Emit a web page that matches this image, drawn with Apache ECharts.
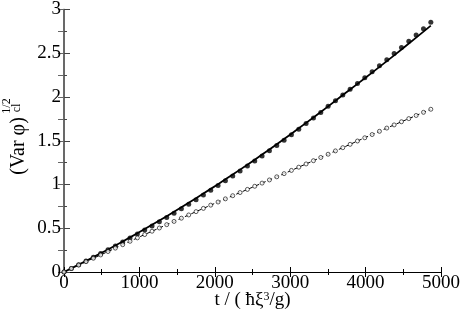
<!DOCTYPE html>
<html>
<head>
<meta charset="utf-8">
<script src="https://cdn.jsdelivr.net/npm/echarts@6/dist/echarts.min.js"></script>
<style>
html,body{margin:0;padding:0;background:#fff;}
#c{width:463px;height:323px;}
</style>
</head>
<body>
<div id="c"></div>
<script>
// ---- data ----
const tStep = 97.3;
const xTicks = [0, 1000, 2000, 3000, 4000, 5000];
const yTicks = [0, 0.5, 1, 1.5, 2, 2.5, 3];

// filled dots (simulation, upper set)
const filledDots = [0.000,0.041,0.083,0.125,0.168,0.211,0.254,0.298,0.343,0.389,
  0.435,0.481,0.527,0.575,0.623,0.672,0.723,0.775,0.827,0.880,
  0.934,0.988,1.043,1.098,1.155,1.212,1.269,1.327,1.386,1.446,
  1.506,1.569,1.632,1.697,1.760,1.824,1.893,1.957,2.022,2.088,
  2.154,2.221,2.289,2.357,2.426,2.496,2.566,2.636,2.708,2.780,2.853];

// solid curve
const solidLine = [0.000,0.041,0.084,0.126,0.170,0.214,0.258,0.303,0.349,0.396,
  0.443,0.491,0.539,0.588,0.638,0.688,0.739,0.791,0.843,0.896,
  0.950,1.004,1.059,1.114,1.170,1.227,1.284,1.342,1.401,1.460,
  1.520,1.581,1.642,1.704,1.766,1.829,1.893,1.957,2.022,2.086,
  2.150,2.214,2.279,2.344,2.410,2.476,2.543,2.611,2.679,2.747,2.816];

// open circles (lower set)
const openDots = [0.000,0.040,0.079,0.118,0.157,0.195,0.234,0.273,0.312,0.351,
  0.390,0.428,0.466,0.503,0.541,0.578,0.615,0.652,0.690,0.727,
  0.764,0.800,0.836,0.872,0.908,0.944,0.980,1.016,1.052,1.088,
  1.124,1.161,1.198,1.235,1.272,1.309,1.346,1.384,1.421,1.459,
  1.497,1.534,1.571,1.608,1.645,1.681,1.717,1.753,1.789,1.825,1.860];

// dashed curve
const dashedLine = [0.000,0.040,0.079,0.118,0.157,0.195,0.234,0.273,0.312,0.351,
  0.390,0.428,0.466,0.503,0.541,0.578,0.615,0.652,0.690,0.727,
  0.764,0.800,0.836,0.872,0.908,0.944,0.980,1.016,1.052,1.088,
  1.124,1.161,1.198,1.235,1.272,1.309,1.346,1.384,1.421,1.459,
  1.497,1.534,1.571,1.608,1.645,1.681,1.717,1.753,1.789,1.825,1.860];

const tValues = filledDots.map((_, i) => +(i * tStep).toFixed(1));
const pairs = arr => arr.map((v, i) => [tValues[i], v]);

const FONT = 'Liberation Serif';
const chart = echarts.init(document.getElementById('c'));

const axisCommon = {
  min: xTicks[0], max: xTicks[xTicks.length - 1], interval: xTicks[1] - xTicks[0]
};
const yCommon = {
  min: yTicks[0], max: yTicks[yTicks.length - 1], interval: yTicks[1] - yTicks[0]
};
const plain = v => String(v);

chart.setOption({
  animation: false,
  backgroundColor: '#fff',
  grid: {left: 64, right: 22, top: 8, bottom: 51, containLabel: false},
  xAxis: [{
    type: 'value', position: 'bottom', ...axisCommon,
    axisLine: {show: true, lineStyle: {color: '#000', width: 1}},
    axisTick: {show: true, inside: true, length: 5, lineStyle: {color: '#000'}},
    minorTick: {show: true, splitNumber: 2, length: 3, lineStyle: {color: '#000'}},
    splitLine: {show: false},
    axisLabel: {color: '#000', fontFamily: FONT, fontSize: 19, margin: 2, formatter: plain},
    name: 't / ( ħξ{sup|3}/g)',
    nameLocation: 'middle', nameGap: 19, nameMoveOverlap: false,
    nameTextStyle: {color: '#000', fontFamily: FONT, fontSize: 19, lineHeight: 19,
      rich: {sup: {fontFamily: FONT, fontSize: 12, lineHeight: 12, verticalAlign: 'top'}}}
  }, {
    type: 'value', position: 'top', ...axisCommon,
    axisLine: {show: true, lineStyle: {color: '#000', width: 1}},
    axisTick: {show: true, inside: true, length: 5, lineStyle: {color: '#000'}},
    minorTick: {show: true, splitNumber: 2, length: 3, lineStyle: {color: '#000'}},
    splitLine: {show: false},
    axisLabel: {show: false}
  }],
  yAxis: [{
    type: 'value', position: 'left', ...yCommon,
    axisLine: {show: true, lineStyle: {color: '#444', width: 1.5}},
    axisTick: {show: true, inside: true, length: 6, lineStyle: {color: '#444'}},
    minorTick: {show: true, splitNumber: 2, length: 3, lineStyle: {color: '#444'}},
    splitLine: {show: false},
    axisLabel: {color: '#000', fontFamily: FONT, fontSize: 19, margin: 3, formatter: plain}
  }, {
    type: 'value', position: 'right', ...yCommon,
    axisLine: {show: true, lineStyle: {color: '#666', width: 1.5}},
    axisTick: {show: true, inside: true, length: 6, lineStyle: {color: '#666'}},
    minorTick: {show: true, splitNumber: 2, length: 6, lineStyle: {color: '#666'}},
    splitLine: {show: false},
    axisLabel: {show: false}
  }],
  graphic: [
    {type: 'text', x: 19, y: 146, rotation: Math.PI / 2,
     style: {text: '(Var φ)', fontFamily: FONT, fontSize: 20, fill: '#000', align: 'center', verticalAlign: 'middle'}},
    {type: 'text', x: 7, y: 106, rotation: Math.PI / 2,
     style: {text: '1/2', fontFamily: FONT, fontSize: 12, fill: '#000', align: 'center', verticalAlign: 'middle'}},
    {type: 'text', x: 17, y: 108, rotation: Math.PI / 2,
     style: {text: 'cl', fontFamily: FONT, fontSize: 12, fill: '#000', align: 'center', verticalAlign: 'middle'}}
  ],
  series: [
    {type: 'line', name: 'solid', data: pairs(solidLine), showSymbol: false, symbol: 'none',
     lineStyle: {color: '#000', width: 1.8}, z: 2},
    {type: 'line', name: 'dashed', data: pairs(dashedLine), showSymbol: false, symbol: 'none',
     lineStyle: {color: '#000', width: 1, type: [4, 3]}, z: 2},
    {type: 'scatter', name: 'filled', data: pairs(filledDots), symbol: 'circle', symbolSize: 5,
     itemStyle: {color: '#000'}, z: 3},
    {type: 'scatter', name: 'open', data: pairs(openDots), symbol: 'circle', symbolSize: 4,
     itemStyle: {color: '#fff', borderColor: '#000', borderWidth: 0.8}, z: 3}
  ]
});
</script>
</body>
</html>
